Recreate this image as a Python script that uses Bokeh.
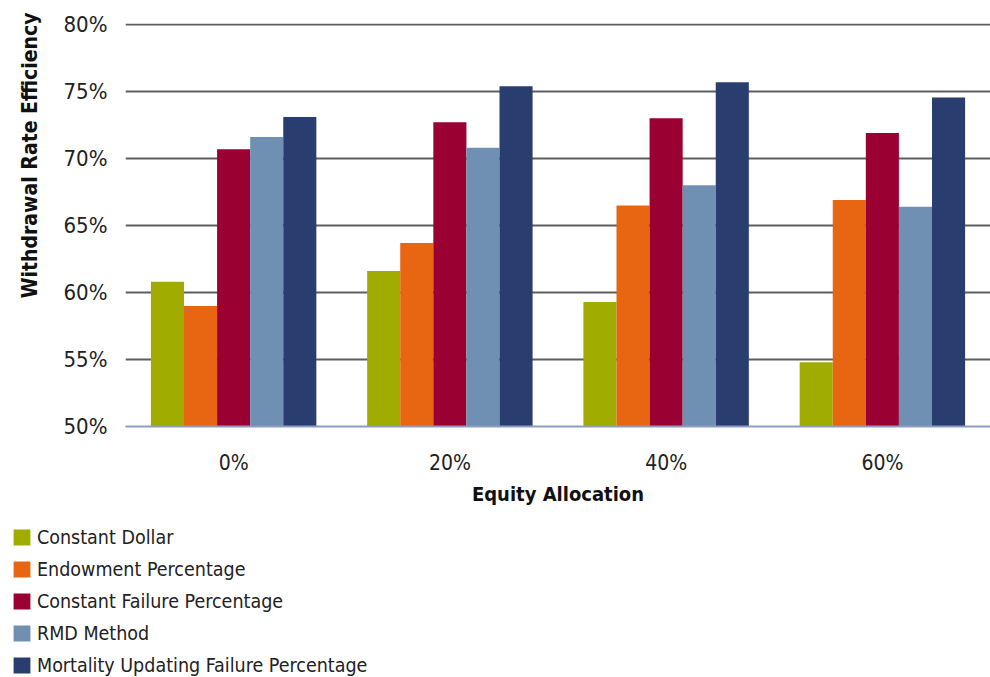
import math
from bokeh.plotting import figure
from bokeh.models import (ColumnDataSource, FactorRange, Range1d, FixedTicker,
                          PrintfTickFormatter, Legend, LegendItem, Title)
from bokeh.transform import dodge
from bokeh.embed import file_html
from bokeh.resources import INLINE

categories = ["0%", "20%", "40%", "60%"]
constant_dollar = [60.8, 61.6, 59.3, 54.8]
endowment_pct = [59.0, 63.7, 66.5, 66.9]
constant_failure_pct = [70.7, 72.7, 73.0, 71.9]
rmd_method = [71.6, 70.8, 68.0, 66.4]
mortality_updating = [73.1, 75.4, 75.7, 74.55]
y_ticks = [50, 55, 60, 65, 70, 75, 80]

series_names = ["Constant Dollar", "Endowment Percentage", "Constant Failure Percentage",
                "RMD Method", "Mortality Updating Failure Percentage"]
series_values = [constant_dollar, endowment_pct, constant_failure_pct, rmd_method, mortality_updating]
colors = ["#A0AC00", "#E86511", "#9B0032", "#7090B3", "#293E6E"]

FONT = "DejaVu Sans Condensed, Liberation Sans Narrow, sans-serif"

src = ColumnDataSource(dict(cat=categories, **{f"s{i}": v for i, v in enumerate(series_values)}))

MAIN_H = 520
p = figure(width=990, height=MAIN_H, x_range=FactorRange(*categories, range_padding=0),
           y_range=Range1d(50, 80.08), output_backend="svg", toolbar_location=None,
           min_border_left=125, min_border_right=0, min_border_top=23,
           min_border_bottom=MAIN_H - 426)
p.outline_line_color = None

bw = 0.153
renderers = []
for i, (name, c) in enumerate(zip(series_names, colors)):
    r = p.vbar(x=dodge("cat", (i - 2) * bw, range=p.x_range), top=f"s{i}", bottom=50,
               width=bw, source=src, fill_color=c, line_color=None)
    renderers.append(r)

# axes
p.yaxis.ticker = FixedTicker(ticks=y_ticks)
p.yaxis.formatter = PrintfTickFormatter(format="%d%%")
p.yaxis.axis_line_color = None
p.yaxis.major_tick_line_color = None
p.yaxis.minor_tick_line_color = None
p.yaxis.major_label_standoff = 12
p.yaxis.major_label_text_font = FONT
p.yaxis.major_label_text_font_size = "22px"
p.yaxis.major_label_text_color = "#222222"

p.xaxis.axis_line_color = "#8C9CC2"
p.xaxis.axis_line_width = 2
p.xaxis.major_tick_line_color = None
p.xaxis.minor_tick_line_color = None
p.xaxis.major_label_standoff = 18
p.xaxis.major_label_text_font = FONT
p.xaxis.major_label_text_font_size = "21px"
p.xaxis.major_label_text_color = "#222222"
p.xaxis.axis_label = "Equity Allocation"
p.xaxis.axis_label_standoff = 4
p.xaxis.axis_label_text_font = FONT
p.xaxis.axis_label_text_font_size = "20px"
p.xaxis.axis_label_text_font_style = "bold"
p.xaxis.axis_label_text_color = "#111111"

p.xgrid.grid_line_color = None
p.ygrid.ticker = FixedTicker(ticks=y_ticks[1:])
p.ygrid.grid_line_color = "#5E5E5E"
p.ygrid.grid_line_width = 2

ytitle = Title(text="Withdrawal Rate Efficiency", align="right", offset=-11, standoff=33,
               vertical_align="top", text_font=FONT, text_font_size="21px",
               text_font_style="bold", text_color="#111111")
p.add_layout(ytitle, "left")

# legend strip (separate root below the chart, same series and colours)
LEG_H = 677 - MAIN_H
pl = figure(width=990, height=LEG_H, output_backend="svg", toolbar_location=None,
            min_border=0, x_range=FactorRange(*categories), y_range=Range1d(0, 1),
            x_axis_location=None, y_axis_location=None)
pl.grid.visible = False
pl.outline_line_color = None
leg_renderers = []
for i, (name, c) in enumerate(zip(series_names, colors)):
    r = pl.vbar(x="cat", top=f"s{i}", width=bw, source=src, fill_color=c,
                line_color=None, visible=False)
    leg_renderers.append(r)

legend = Legend(items=[LegendItem(label=n, renderers=[r]) for n, r in zip(series_names, leg_renderers)],
                location=(11, 0), orientation="vertical", margin=0, padding=0,
                spacing=8, glyph_width=21, glyph_height=20, label_height=24,
                label_standoff=5, label_text_font=FONT, label_text_font_size="19.5px",
                label_text_color="#222222", border_line_color=None, background_fill_alpha=0,
                click_policy="none")
pl.add_layout(legend, "center")

open("out.html", "w").write(file_html([p, pl], INLINE))
